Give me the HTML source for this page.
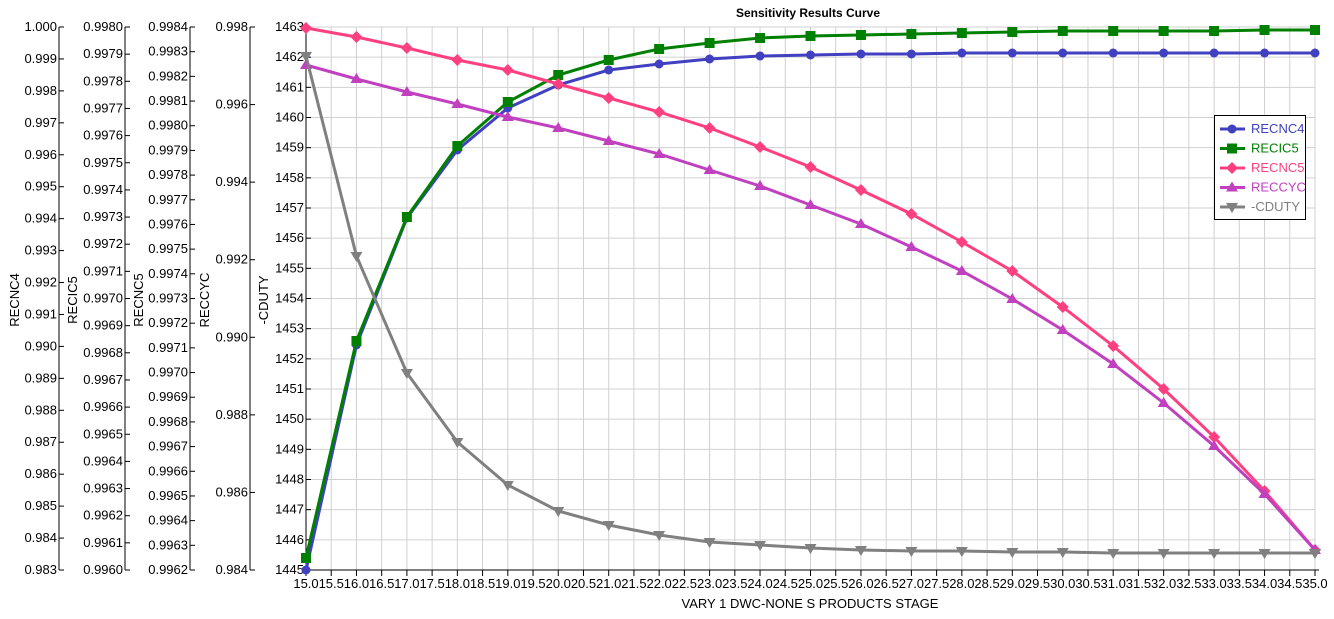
<!DOCTYPE html>
<html><head><meta charset="utf-8"><style>
html,body{margin:0;padding:0;background:#fff;}
svg{display:block;font-family:"Liberation Sans",sans-serif;}
</style></head><body>
<svg id="s" width="1334" height="619" xmlns="http://www.w3.org/2000/svg"></svg>
<script>
const s=document.getElementById('s');let h='';
const X0=306,X1=1315,Y0=27,Y1=570;
for(let i=0;i<=40;i++){const x=X0+(X1-X0)*i/40;h+=`<line x1="${x}" y1="${Y0}" x2="${x}" y2="${Y1}" stroke="#d0d0d0"/>`;}
for(let i=0;i<=18;i++){const y=Y0+(Y1-Y0)*i/18;h+=`<line x1="${X0}" y1="${y}" x2="${X1}" y2="${y}" stroke="#d0d0d0"/>`;}
h+=`<line x1="${X0}" y1="${Y1}" x2="${X1+4}" y2="${Y1}" stroke="#000"/>`;
for(let i=0;i<=40;i++){const x=X0+(X1-X0)*i/40;h+=`<line x1="${x}" y1="${Y1}" x2="${x}" y2="${Y1+6}" stroke="#000"/>`;
h+=`<text x="${x}" y="588" font-size="13" text-anchor="middle">${(15+i*0.5).toFixed(1)}</text>`;}
h+=`<text x="810" y="608" font-size="13" text-anchor="middle">VARY   1 DWC-NONE S PRODUCTS STAGE</text>`;
h+=`<text x="808" y="17" font-size="12" font-weight="bold" text-anchor="middle">Sensitivity Results Curve</text>`;
function axis(ax,n,fmt,lab,lx){h+=`<line x1="${ax}" y1="${Y0}" x2="${ax}" y2="${Y1}" stroke="#000"/>`;
for(let i=0;i<=n;i++){const y=Y0+(Y1-Y0)*i/n;h+=`<line x1="${ax}" y1="${y}" x2="${ax+5}" y2="${y}" stroke="#000"/><text x="${ax-2}" y="${y+4}" font-size="13" text-anchor="end">${fmt(i)}</text>`;}
h+=`<text transform="translate(${lx},300) rotate(-90)" font-size="13" text-anchor="middle">${lab}</text>`;}
axis(59,17,i=>(1-i*0.001).toFixed(3),'RECNC4',19);
axis(125,20,i=>(0.998-i*0.0001).toFixed(4),'RECIC5',77);
axis(190,22,i=>(0.9984-i*0.0001).toFixed(4),'RECNC5',143);
axis(250,7,i=>(0.998-i*0.002).toFixed(3),'RECCYC',209);
axis(306,18,i=>(1463-i),'-CDUTY',268);
const xs=i=>X0+(X1-X0)*i/20;
const D=[
['#4040c0','c',[570,345,218,150,108,85,70,64,59,56,55,54,54,53,53,53,53,53,53,53,53]],
['#008000','s',[558,341,217,146,102,75,60,49,43,38,36,35,34,33,32,31,31,31,31,30,30]],
['#ff4080','d',[28,37,48,60,70,84,98,112,128,147,167,190,214,242,271,307,346,389,437,491,550]],
['#c040c0','t',[65,79,92,104,117,128,141,154,170,186,205,224,247,271,299,330,364,403,446,494,550]],
['#808080','v',[56,256,373,442,485,511,525,535,542,545,548,550,551,551,552,552,553,553,553,553,553]]];
function mk(t,x,y,c){if(t=='c')return `<circle cx="${x}" cy="${y}" r="4.5" fill="${c}"/>`;
if(t=='s')return `<rect x="${x-5}" y="${y-5}" width="10" height="10" fill="${c}"/>`;
if(t=='d')return `<polygon points="${x},${y-6} ${x+6},${y} ${x},${y+6} ${x-6},${y}" fill="${c}"/>`;
if(t=='t')return `<polygon points="${x},${y-6} ${x+6},${y+4} ${x-6},${y+4}" fill="${c}"/>`;
return `<polygon points="${x-6},${y-4} ${x+6},${y-4} ${x},${y+6}" fill="${c}"/>`;}
for(const [c,t,v] of D){h+=`<polyline fill="none" stroke="${c}" stroke-width="3" points="${v.map((y,i)=>xs(i)+','+y).join(' ')}"/>`;
v.forEach((y,i)=>h+=mk(t,xs(i),y,c));}
h+=`<rect x="1214.5" y="115.5" width="91" height="104" fill="#fff" stroke="#000"/>`;
const L=['RECNC4','RECIC5','RECNC5','RECCYC','-CDUTY'];
D.forEach(([c,t],i)=>{const y=129+i*19.5;h+=`<line x1="1220" y1="${y}" x2="1245" y2="${y}" stroke="${c}" stroke-width="3"/>`+mk(t,1232,y,c)+`<text x="1251" y="${y+4}" font-size="13" fill="${c}">${L[i]}</text>`;});
s.innerHTML=h;
</script>
</body></html>
